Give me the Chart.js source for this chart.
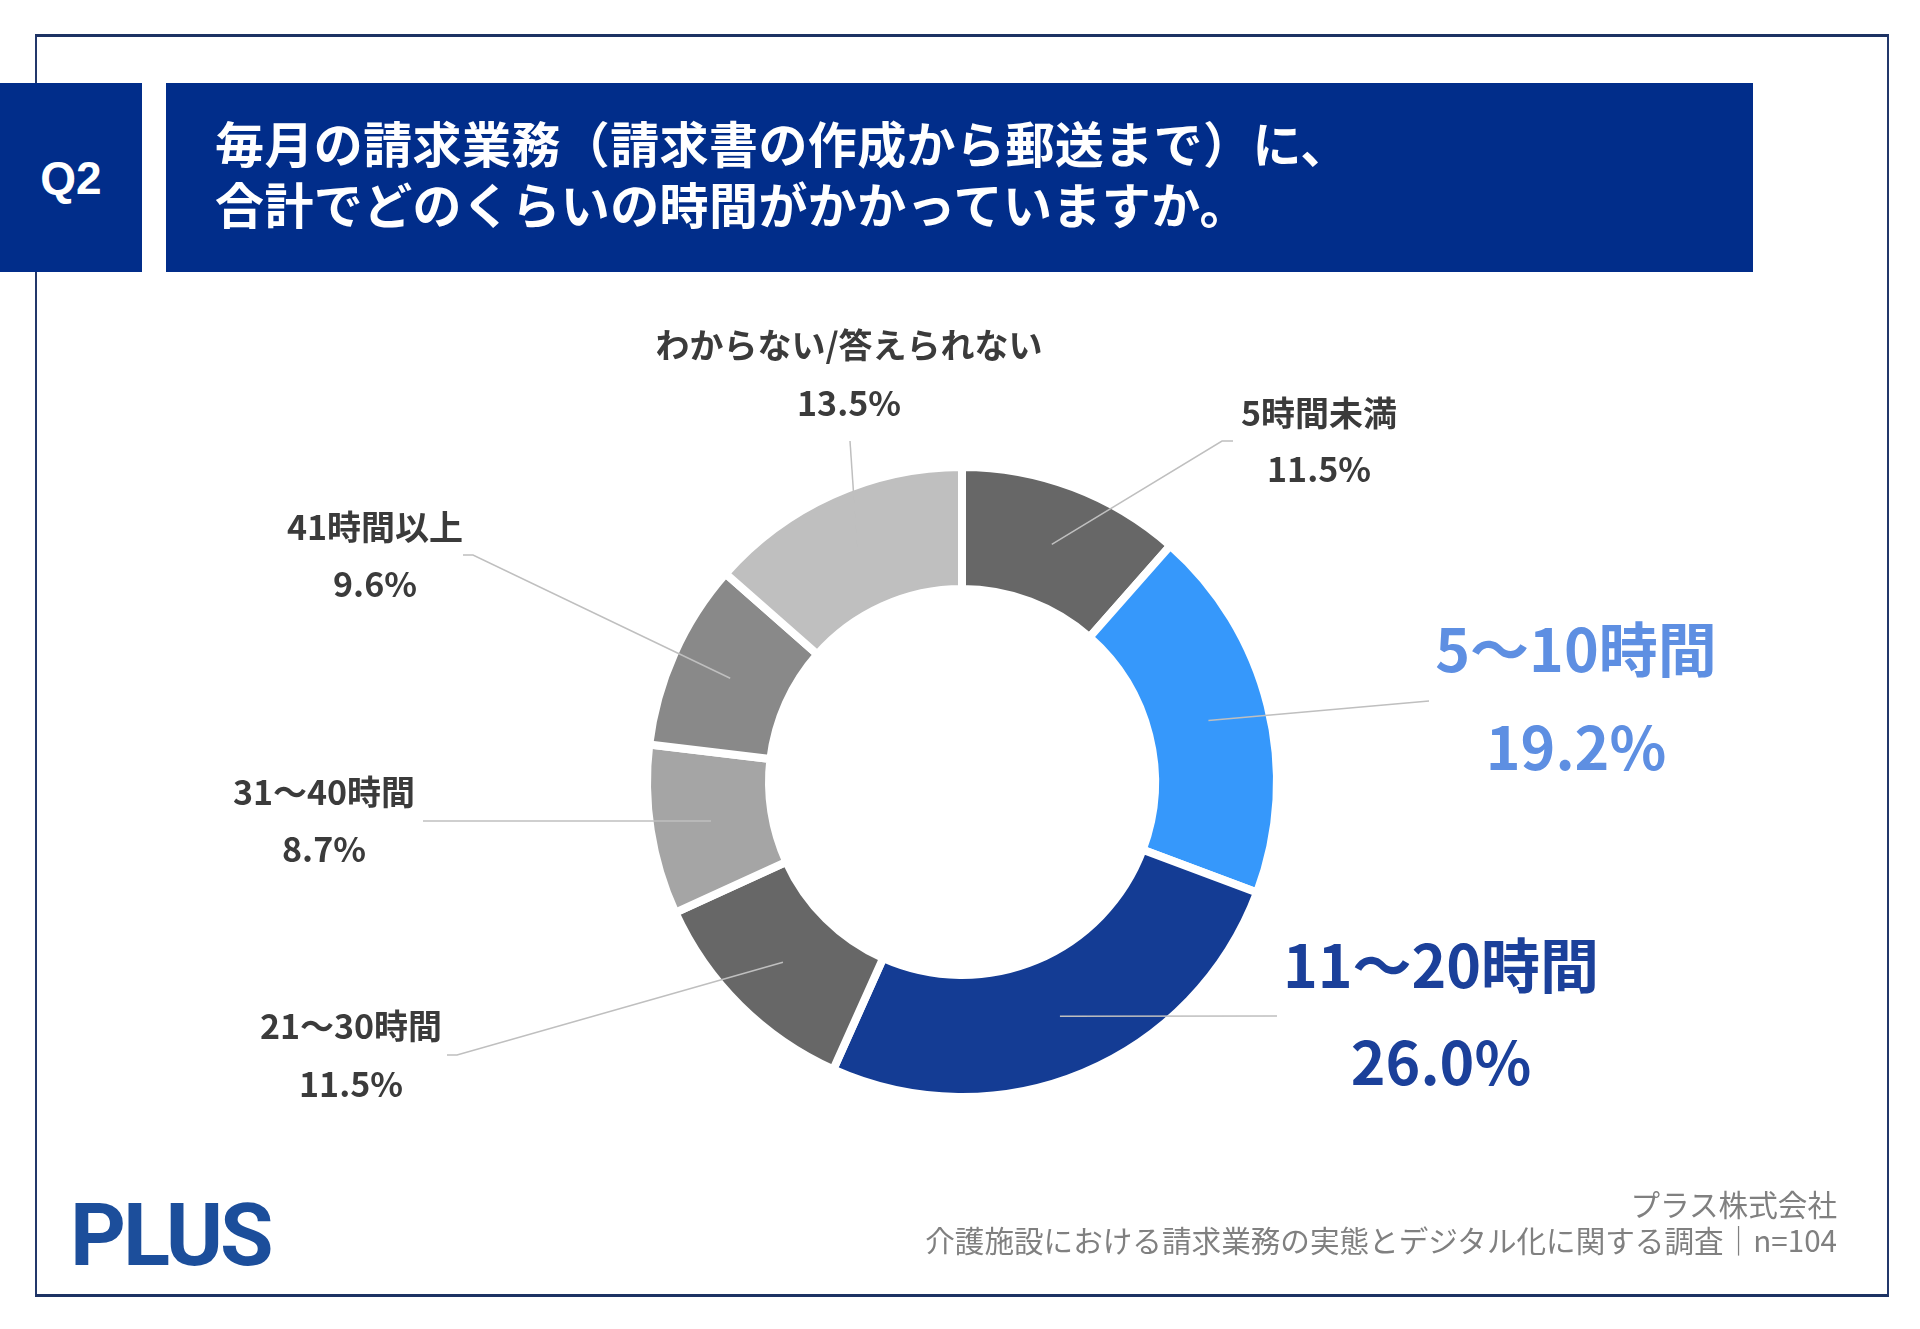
<!DOCTYPE html>
<html lang="ja">
<head>
<meta charset="utf-8">
<title>Q2 請求業務の所要時間</title>
<script src="https://cdn.jsdelivr.net/npm/chart.js@4.4.1/dist/chart.umd.min.js"></script>
<style>
    html, body { margin: 0; padding: 0; background: #fff; }
    body { width: 1920px; height: 1329px; position: relative; overflow: hidden; font-family: 'Noto Sans CJK JP', sans-serif; }
    .frame { position: absolute; left: 35px; top: 34px; width: 1850px; height: 1257px;
             border-left: 2px solid #23386b; border-right: 2px solid #23386b;
             border-top: 3px solid #1d3263; border-bottom: 3px solid #1d3263; }
    .qbox { position: absolute; left: 0; top: 83px; width: 142px; height: 189px; background: #012d8a;
            color: #fff; font: 700 46px 'Liberation Sans', Arial, sans-serif;
            display: flex; align-items: center; justify-content: center; }
    .titlebox { position: absolute; left: 166px; top: 83px; width: 1587px; height: 189px; background: #012d8a; }
    .title { position: absolute; left: 215px; top: 111px; color: #fff; font-weight: 700; font-size: 49px;
             letter-spacing: 0.4px; line-height: 61px; white-space: nowrap; }
    .logo { position: absolute; left: 70px; top: 1192px; font: 700 87px Roboto, sans-serif; line-height: 86px;
            letter-spacing: -3px; color: #1c4e9b; }
    .source { position: absolute; right: 83px; top: 1186px; text-align: right; color: #808080;
              font-size: 29.6px; font-weight: 400; line-height: 36px; white-space: nowrap; }
    #graficoTempo { position: absolute; left: 0; top: 0; }
</style>
</head>
<body>
<div class="frame"></div>
<div class="qbox">Q2</div>
<div class="titlebox"></div>
<div class="title">毎月の請求業務（請求書の作成から郵送まで）に、<br>合計でどのくらいの時間がかかっていますか。</div>
<canvas id="graficoTempo" width="1920" height="1329"></canvas>
<div class="logo">PLUS</div>
<div class="source">プラス株式会社<br>介護施設における請求業務の実態とデジタル化に関する調査｜n=104</div>

<script>
// dados (%), lidos do gráfico — começando no topo, sentido horário
const categorias = ['5時間未満', '5〜10時間', '11〜20時間', '21〜30時間', '31〜40時間', '41時間以上', 'わからない/答えられない'];
const percentuais = [11.5, 19.2, 26.0, 11.5, 8.7, 9.6, 13.5];

// estilo
const coresFatias = ['#676767', '#3698fb', '#143c94', '#676767', '#a5a5a5', '#898989', '#bfbfbf'];
const coresRotulos = ['#3b3b3b', '#5e8fe2', '#1b409a', '#3b3b3b', '#3b3b3b', '#3b3b3b', '#3b3b3b'];
const tamanhosRotulos = [34, 59, 59, 34, 34, 34, 34];

// posição dos rótulos relativa ao centro da rosca: texto [x, y linha1, y linha2] e pontos da linha guia
const layoutRotulos = [
    { t: [357, -369, -313], linha: [[260, -341], [271, -341]] },
    { t: [614, -132, -34], linha: [[467, -81]] },
    { t: [479, 184, 281], linha: [[315, 234]] },
    { t: [-611, 244, 302], linha: [[-505, 273], [-515, 273]] },
    { t: [-638, 10, 67], linha: [[-539, 39]] },
    { t: [-587, -255, -198], linha: [[-489, -227], [-499, -227]] },
    { t: [-113, -437, -379], linha: [[-112, -341]] }
];

const pluginRotulos = {
    id: 'rotulos',
    afterDatasetsDraw(chart) {
        const ctx = chart.ctx;
        const meta = chart.getDatasetMeta(0);
        meta.data.forEach((arco, i) => {
            const cx = arco.x, cy = arco.y;
            const inicio = arco.tooltipPosition();
            const lay = layoutRotulos[i];

            ctx.save();
            ctx.strokeStyle = '#bfbfbf';
            ctx.lineWidth = 1.5;
            ctx.beginPath();
            ctx.moveTo(inicio.x, inicio.y);
            lay.linha.forEach(p => ctx.lineTo(cx + p[0], cy + p[1]));
            ctx.stroke();

            ctx.fillStyle = coresRotulos[i];
            ctx.font = `700 ${tamanhosRotulos[i]}px 'Noto Sans CJK JP'`;
            ctx.textAlign = 'center';
            ctx.textBaseline = 'middle';
            ctx.fillText(categorias[i], cx + lay.t[0], cy + lay.t[1]);
            ctx.fillText(percentuais[i].toFixed(1) + '%', cx + lay.t[0], cy + lay.t[2]);
            ctx.restore();
        });
    }
};

new Chart(document.getElementById('graficoTempo'), {
    type: 'doughnut',
    data: {
        labels: categorias,
        datasets: [{
            data: percentuais,
            backgroundColor: coresFatias,
            borderColor: '#ffffff',
            borderWidth: 8,
            hoverOffset: 0
        }]
    },
    options: {
        responsive: false,
        animation: false,
        events: [],
        radius: 315,
        cutout: '61.27%',
        layout: { padding: { left: 600, right: 596, top: 400, bottom: 165 } },
        plugins: { legend: { display: false }, tooltip: { enabled: false } }
    },
    plugins: [pluginRotulos]
});
</script>
</body>
</html>
